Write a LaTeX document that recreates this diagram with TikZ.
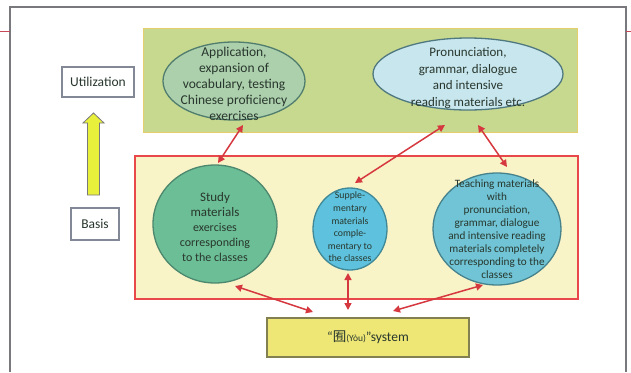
\documentclass[tikz,border=0pt]{standalone}
\usepackage{fontspec}
\setmainfont{Carlito}
\newfontfamily\cjkfont{Noto Sans CJK SC}
\usetikzlibrary{arrows.meta,shapes.geometric}
\definecolor{framegray}{RGB}{120,120,125}
\definecolor{tickred}{RGB}{200,72,90}
\definecolor{greenfill}{RGB}{198,217,142}
\definecolor{greenedge}{RGB}{228,206,110}
\definecolor{ellLfill}{RGB}{172,207,172}
\definecolor{ellLedge}{RGB}{80,125,110}
\definecolor{ellRfill}{RGB}{200,230,238}
\definecolor{ellRedge}{RGB}{80,120,128}
\definecolor{redfill}{RGB}{249,243,200}
\definecolor{rededge}{RGB}{232,72,74}
\definecolor{c1fill}{RGB}{108,190,150}
\definecolor{c1edge}{RGB}{76,136,110}
\definecolor{mfill}{RGB}{94,194,222}
\definecolor{medge}{RGB}{64,136,150}
\definecolor{c3fill}{RGB}{112,196,214}
\definecolor{c3edge}{RGB}{70,130,140}
\definecolor{sysfill}{RGB}{238,231,118}
\definecolor{sysedge}{RGB}{130,128,80}
\definecolor{boxedge}{RGB}{130,136,150}
\definecolor{arrred}{RGB}{214,56,64}
\definecolor{yelarrow}{RGB}{232,240,60}
\definecolor{txt}{RGB}{40,55,45}
\begin{document}
\begin{tikzpicture}[x=1pt,y=-1pt,
  shapebox/.style={rectangle, inner sep=0pt, outer sep=0pt},
  ellshape/.style={ellipse, inner sep=0pt, outer sep=0pt, line width=1.3pt},
  lbl/.style={align=center, text=txt, inner sep=0pt},
  arr/.style={draw=arrred, line width=1.5pt,
    {Triangle[length=7pt,width=7pt]}-{Triangle[length=7pt,width=7pt]}},
  sidebox/.style={rectangle, draw=boxedge, line width=1.2pt, fill=white,
    inner sep=0pt, text=txt, font=\fontsize{13.5}{15}\selectfont}
]
\useasboundingbox (0,0) rectangle (631,372);
\fill[white] (0,0) rectangle (631,372);
% outer frame
\draw[framegray, line width=1.2pt] (10,372) -- (10,7) -- (626,7) -- (626,372);
\draw[tickred, line width=1pt] (0,31) -- (10,31);
\draw[tickred, line width=1pt] (626,31) -- (631,31);
% big boxes
\node[shapebox, fill=greenfill, draw=greenedge, line width=1pt,
  minimum width=434pt, minimum height=104pt] (G) at (360,80) {};
\node[shapebox, fill=redfill, draw=rededge, line width=2.2pt,
  minimum width=443pt, minimum height=143pt] (B) at (356.5,227.5) {};
% top ellipses
\node[ellshape, fill=ellLfill, draw=ellLedge,
  minimum width=142pt, minimum height=78pt] (L) at (234,81) {};
\node[lbl, font=\fontsize{13.5}{16}\selectfont] (Lt) at (234,84)
  {Application,\\expansion of\\vocabulary, testing\\Chinese proficiency\\exercises};
\node[ellshape, fill=ellRfill, draw=ellRedge,
  minimum width=190pt, minimum height=72pt] (R) at (468,74) {};
\node[lbl, font=\fontsize{13}{16.5}\selectfont] (Rt) at (468,78)
  {Pronunciation,\\grammar, dialogue\\and intensive\\reading materials etc.};
% circles
\node[ellshape, fill=c1fill, draw=c1edge,
  minimum width=124pt, minimum height=118pt] (C1) at (215,224) {};
\node[lbl, font=\fontsize{12}{15}\selectfont] (C1t) at (215,227)
  {\fontsize{13}{15}\selectfont Study\\\fontsize{13}{15}\selectfont materials\\exercises\\corresponding\\to the classes};
\node[ellshape, fill=mfill, draw=medge,
  minimum width=74pt, minimum height=82pt] (M) at (350,229) {};
\node[lbl, font=\fontsize{9.8}{12.6}\selectfont] (Mt) at (350,227)
  {Supple-\\mentary\\materials\\comple-\\mentary to\\the classes};
\node[ellshape, fill=c3fill, draw=c3edge,
  minimum width=128pt, minimum height=112pt] (C3) at (497,229) {};
\node[lbl, font=\fontsize{11.2}{13}\selectfont] (C3t) at (497,229)
  {Teaching materials\\with\\pronunciation,\\grammar, dialogue\\and intensive reading\\materials completely\\corresponding to the\\classes};
% system box
\node[shapebox, fill=sysfill, draw=sysedge, line width=1.3pt,
  minimum width=202pt, minimum height=39pt, text=txt,
  font=\fontsize{13.5}{15}\selectfont] (S) at (368,337.5)
  {``{\cjkfont 囿}{\fontsize{9.5}{10}\selectfont (Yòu)}''system};
% side boxes
\node[sidebox, minimum width=72pt, minimum height=30pt] (U) at (98,82) {Utilization};
\node[sidebox, minimum width=48pt, minimum height=32pt] (Ba) at (95,224) {Basis};
% yellow block arrow
\draw[fill=yelarrow, draw=framegray, line width=0.8pt]
  (87.5,195) -- (87.5,123) -- (83,123) -- (93.5,113) -- (104,123)
  -- (99.5,123) -- (99.5,195) -- cycle;
% connectors
\draw[arr] ([xshift=9pt,yshift=-5pt]L.south) -- ([xshift=3pt,yshift=2pt]C1.north);
\draw[arr] ([xshift=-23pt,yshift=-15pt]R.south) -- ([xshift=5pt,yshift=5pt]M.north);
\draw[arr] ([xshift=10pt,yshift=-15pt]R.south) -- ([xshift=10pt,yshift=6pt]C3.north);
\draw[arr] ([xshift=20pt,yshift=-3pt]C1.south) -- ([xshift=-55pt,yshift=6pt]S.north);
\draw[arr] ([xshift=-2pt,yshift=-3pt]M.south) -- ([xshift=-20pt,yshift=8pt]S.north);
\draw[arr] ([xshift=-14pt,yshift=0pt]C3.south) -- ([xshift=25pt,yshift=7pt]S.north);
\end{tikzpicture}
\end{document}
